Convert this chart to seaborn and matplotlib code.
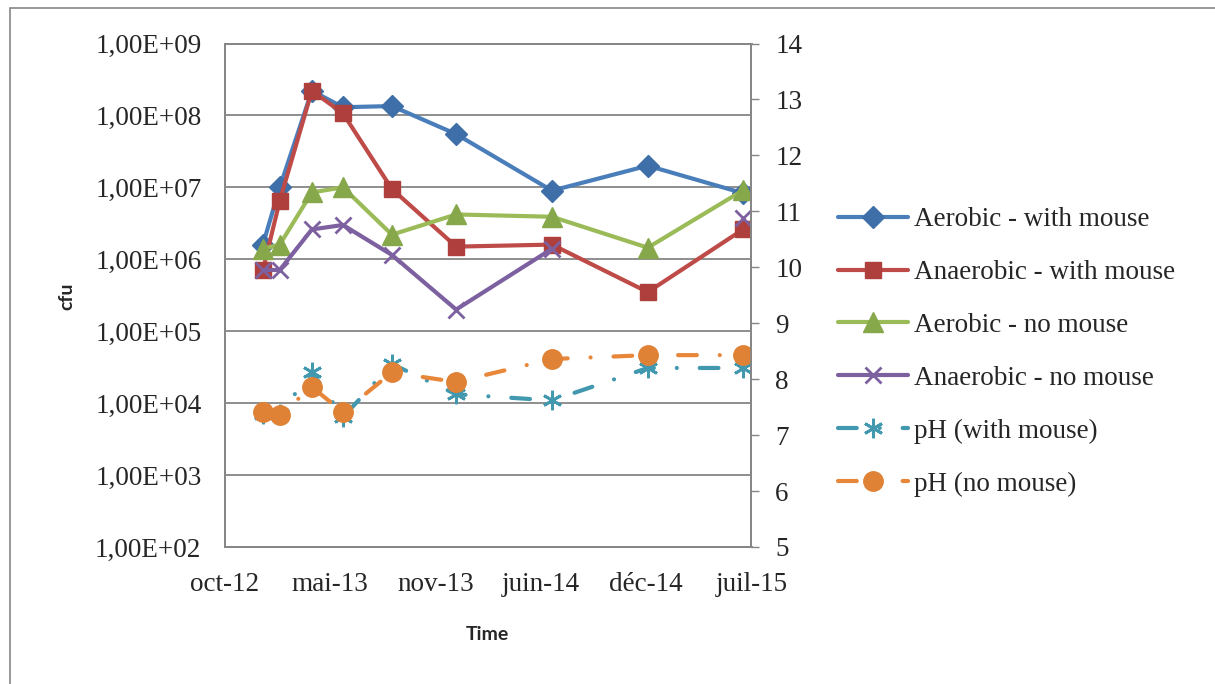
import matplotlib.pyplot as plt
import matplotlib.ticker as mticker
import numpy as np
import pandas as pd
import seaborn as sns
from matplotlib.patches import Rectangle

# sampling dates
sample_dates = [
    "2012-12-29", "2013-01-30", "2013-04-01", "2013-05-30", "2013-08-31",
    "2013-12-31", "2014-07-01", "2014-12-30", "2015-06-29",
]
aerobic_mouse = [1.6e6, 1.0e7, 2.2e8, 1.3e8, 1.35e8, 5.5e7, 9.0e6, 2.0e7, 8.3e6]
anaerobic_mouse = [7.1e5, 6.5e6, 2.2e8, 1.07e8, 9.5e6, 1.5e6, 1.6e6, 3.5e5, 2.6e6]
aerobic_no_mouse = [1.4e6, 1.6e6, 8.5e6, 1.0e7, 2.2e6, 4.2e6, 3.9e6, 1.45e6, 9.1e6]
anaerobic_no_mouse = [7.1e5, 7.1e5, 2.6e6, 3.0e6, 1.15e6, 2.0e5, 1.4e6, np.nan, 3.8e6]
ph_mouse = [7.38, 7.38, 8.13, 7.32, 8.27, 7.73, 7.62, 8.20, 8.20]
ph_no_mouse = [7.41, 7.36, 7.86, 7.41, 8.12, 7.95, 8.36, 8.43, 8.43]

tick_dates = ["2012-10-18", "2013-05-06", "2013-11-22", "2014-06-10", "2014-12-27", "2015-07-15"]
tick_labels = ["oct-12", "mai-13", "nov-13", "juin-14", "déc-14", "juil-15"]

sns.set_style("white")
plt.rcParams["font.family"] = ["Liberation Serif", "DejaVu Serif"]

GRAY = "#868686"
FS = 19.5

fig = plt.figure(figsize=(12.15, 6.84), dpi=100)
ax = fig.add_axes([225 / 1215, 137 / 684, 526.5 / 1215, 503.5 / 684])
ax2 = ax.twinx()

# outer chart frame
fig.patches.append(
    Rectangle((10 / 1215, -0.1), 1.2, 1.1 - 8 / 684, transform=fig.transFigure,
              fill=False, edgecolor=GRAY, lw=1.2)
)

dates = pd.to_datetime(sample_dates)


def draw(axis, values, label, color, mcolor, marker, ms, ls="-", mew=1.0):
    df = pd.DataFrame({"date": dates, "value": values})
    # break the line where a value is missing
    df["segment"] = df["value"].isna().cumsum()
    df = df.dropna()
    sns.lineplot(
        data=df, x="date", y="value", units="segment", estimator=None, ax=axis,
        color=color, lw=3, marker=marker, markersize=ms, markerfacecolor=mcolor,
        markeredgecolor=mcolor, markeredgewidth=mew, linestyle=ls,
        dash_capstyle="round", label=label, legend=False,
    )


dashdot = (0, (4.5, 5.5, 0.01, 5.5))

draw(ax, aerobic_mouse, "Aerobic - with mouse", "#4A7EBB", "#3F6FA9", "D", 11)
draw(ax, anaerobic_mouse, "Anaerobic - with mouse", "#BE4B48", "#AE3F3C", "s", 12)
draw(ax, aerobic_no_mouse, "Aerobic - no mouse", "#9BBB59", "#86A84A", "^", 14)
draw(ax, anaerobic_no_mouse, "Anaerobic - no mouse", "#7D60A0", "#7D60A0", "x", 12, mew=2)
draw(ax2, ph_mouse, "pH (with mouse)", "#4198AF", "#4198AF", (6, 2, 0), 14, dashdot, mew=2)
draw(ax2, ph_no_mouse, "pH (no mouse)", "#E8873A", "#E08235", "o", 14, dashdot)

# left axis: log cfu
ax.set_yscale("log")
ax.set_ylim(1e2, 1e9)
ax.set_yticks([10.0 ** k for k in range(2, 10)])
ax.yaxis.set_major_formatter(mticker.FuncFormatter(lambda v, p: f"1,00E+{int(round(np.log10(v))):02d}"))
ax.yaxis.set_minor_locator(mticker.NullLocator())
ax.grid(axis="y", color=GRAY, lw=1.3)
ax.grid(axis="x", visible=False)
ax.set_axisbelow(True)

# right axis: pH
ax2.set_ylim(5, 14)
ax2.set_yticks(range(5, 15))
ax2.grid(False)

ax.set_xlim(pd.Timestamp(tick_dates[0]), pd.Timestamp(tick_dates[-1]))
ax.set_xticks(pd.to_datetime(tick_dates))
ax.set_xticklabels(tick_labels)

ax.tick_params(axis="y", length=0, pad=17, labelsize=FS)
ax.tick_params(axis="x", length=0, pad=18, labelsize=FS)
ax2.tick_params(axis="y", length=6, width=1, color=GRAY, direction="out", pad=11, labelsize=FS)
ax.set_xlabel("")
ax.set_ylabel("")
ax2.set_ylabel("")

for a in (ax, ax2):
    for sp in a.spines.values():
        sp.set_color(GRAY)
        sp.set_linewidth(1.3)

fig.text(67 / 1215, 1 - 296 / 684, "cfu", rotation=90, ha="center", va="center",
         fontsize=14, fontweight="bold", family="Lato")
fig.text(487 / 1215, 1 - 635 / 684, "Time", ha="center", va="center",
         fontsize=14, fontweight="bold", family="Lato")

handles, labels = [], []
for a in (ax, ax2):
    h, l = a.get_legend_handles_labels()
    for hh, ll in zip(h, l):
        if ll not in labels and not ll.startswith("_"):
            handles.append(hh)
            labels.append(ll)
fig.legend(
    handles, labels, loc="center left", bbox_to_anchor=(838 / 1215, 1 - 352 / 684),
    frameon=False, fontsize=FS, handlelength=2.6, handletextpad=0.2,
    labelspacing=1.03, borderpad=0, borderaxespad=0,
)

fig.savefig("out.png", dpi=100)
